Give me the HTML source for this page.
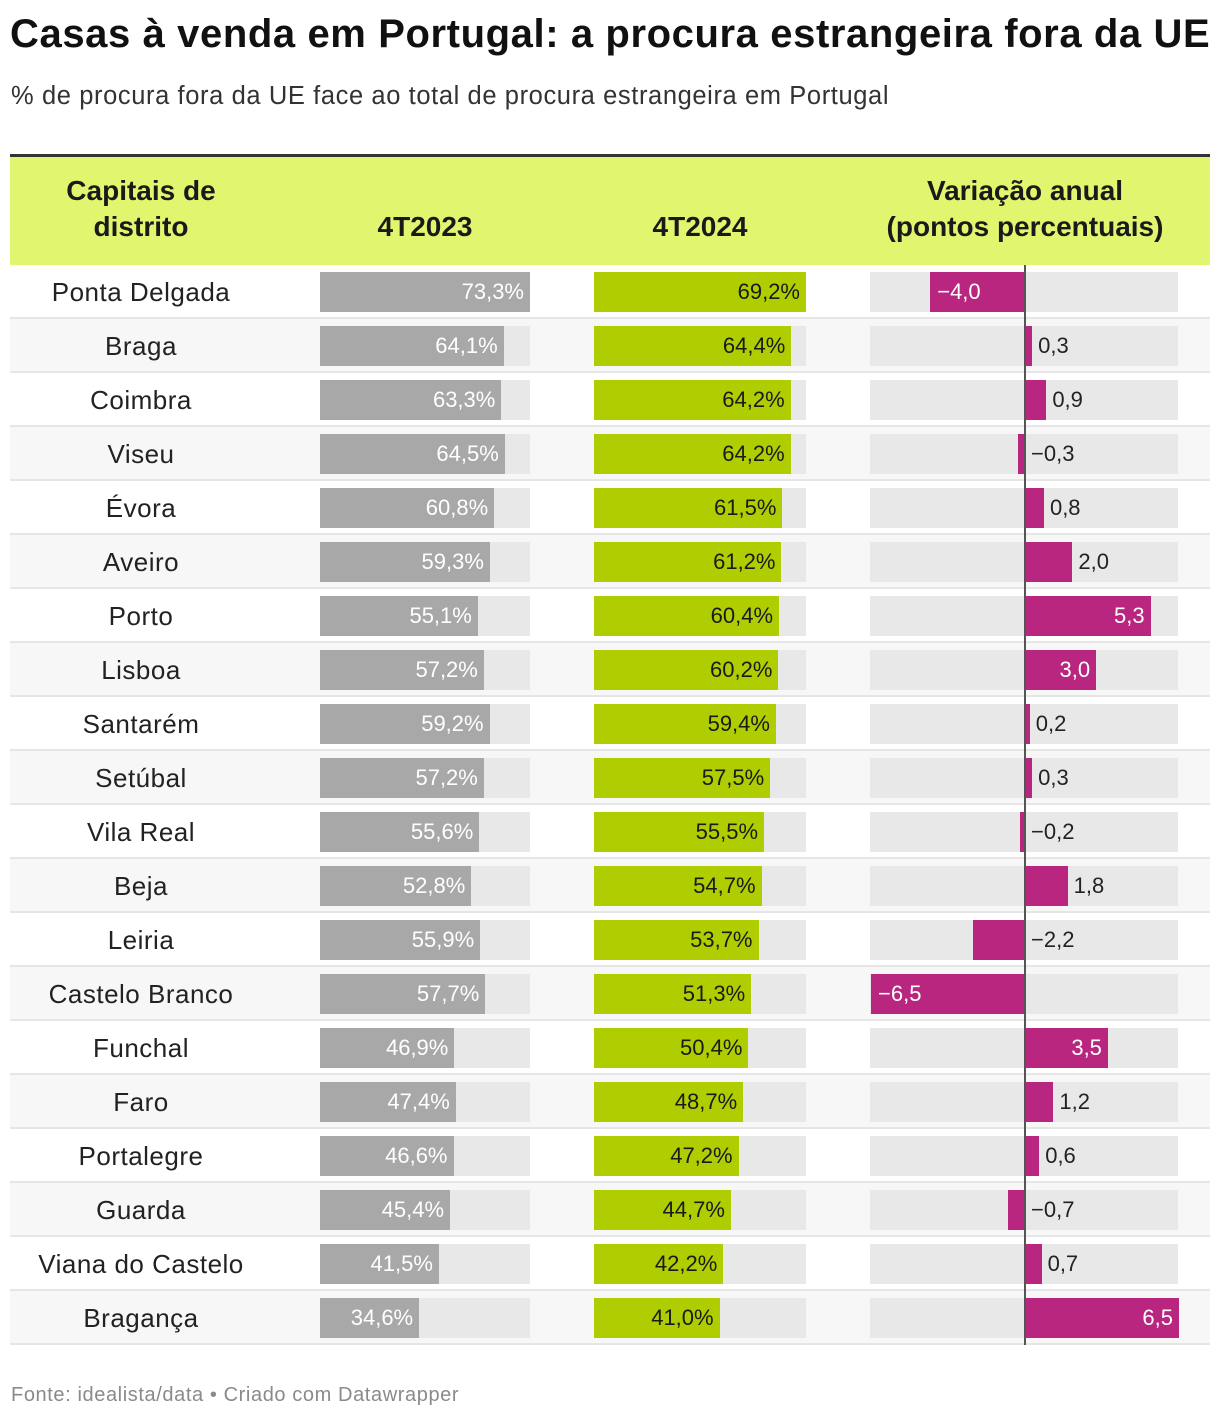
<!DOCTYPE html>
<html><head><meta charset="utf-8"><style>
body{margin:0;width:1220px;height:1420px;background:#fff;font-family:"Liberation Sans",sans-serif;position:relative;overflow:hidden}
.a{position:absolute}
#title{left:10px;top:12px;font-size:40px;font-weight:bold;color:#111;letter-spacing:0.6px;white-space:nowrap}
#sub{left:11px;top:82px;font-size:25.5px;letter-spacing:0.6px;color:#333;white-space:nowrap}
#hdr{left:10px;top:154px;width:1200px;height:108px;background:#e1f56e;border-top:3px solid #333;border-bottom:3px solid #333}
.h{font-weight:bold;font-size:28px;color:#1a1a1a;text-align:center;line-height:36px}
#foot{left:11px;top:1384px;font-size:20px;letter-spacing:0.6px;color:#8a8a8a;white-space:nowrap}
.lbl{font-size:22px;line-height:40px;white-space:nowrap}
</style></head><body>
<div id="title" class="a">Casas à venda em Portugal: a procura estrangeira fora da UE</div>
<div id="sub" class="a">% de procura fora da UE face ao total de procura estrangeira em Portugal</div>
<div id="hdr" class="a">
<div class="a h" style="left:0;width:262px;top:16px">Capitais de<br>distrito</div>
<div class="a h" style="left:310px;width:210px;top:52px">4T2023</div>
<div class="a h" style="left:584px;width:212px;top:52px">4T2024</div>
<div class="a h" style="left:840px;width:350px;top:16px">Variação anual<br>(pontos percentuais)</div>
</div>
<div id="rows"></div>
<div id="foot" class="a">Fonte: idealista/data • Criado com Datawrapper</div>
<script>
const districts=["Ponta Delgada","Braga","Coimbra","Viseu","Évora","Aveiro","Porto","Lisboa","Santarém","Setúbal","Vila Real","Beja","Leiria","Castelo Branco","Funchal","Faro","Portalegre","Guarda","Viana do Castelo","Bragança"];
const v2023=[73.3,64.1,63.3,64.5,60.8,59.3,55.1,57.2,59.2,57.2,55.6,52.8,55.9,57.7,46.9,47.4,46.6,45.4,41.5,34.6];
const v2024=[69.2,64.4,64.2,64.2,61.5,61.2,60.4,60.2,59.4,57.5,55.5,54.7,53.7,51.3,50.4,48.7,47.2,44.7,42.2,41.0];
const change=[-4.0,0.3,0.9,-0.3,0.8,2.0,5.3,3.0,0.2,0.3,-0.2,1.8,-2.2,-6.5,3.5,1.2,0.6,-0.7,0.7,6.5];
const fmt=v=>v.toFixed(1).replace('.',',');
const max23=Math.max(...v2023),max24=Math.max(...v2024),maxC=Math.max(...change.map(Math.abs));
const x23=v=>v/max23*210, x24=v=>v/max24*212, xC=v=>v/maxC*154;
const R=document.getElementById('rows');
function mk(css,name,html){const d=document.createElement('div');d.className='a';d.style.cssText=css;


if(html!==undefined)d.innerHTML=html;R.appendChild(d);return d;}
const top0=265,rh=54,zero=1025;
districts.forEach((n,i)=>{
 const y=top0+i*rh;
 mk(`left:10px;top:${y}px;width:1200px;height:${rh}px;background:${i%2?'#f7f7f7':'#fff'};border-bottom:2px solid #e6e6e6;box-sizing:border-box`,'table-row');
 mk(`left:10px;top:${y+7}px;width:262px;text-align:center;font-size:26px;letter-spacing:0.5px;line-height:40px;color:#222;white-space:nowrap`,'district-name',n);
 const by=y+7;
 mk(`left:320px;top:${by}px;width:210px;height:40px;background:#e8e8e8`,'bar-bg-4t2023');
 const w1=x23(v2023[i]);
 mk(`left:320px;top:${by}px;width:${w1}px;height:40px;background:#a8a8a8`,'bar-4t2023');
 mk(`left:320px;top:${by}px;width:${w1-6}px;text-align:right;color:#fff;`,'value-4t2023',fmt(v2023[i])+'%').classList.add('lbl');
 mk(`left:594px;top:${by}px;width:212px;height:40px;background:#e8e8e8`,'bar-bg-4t2024');
 const w2=x24(v2024[i]);
 mk(`left:594px;top:${by}px;width:${w2}px;height:40px;background:#afcd00`,'bar-4t2024');
 mk(`left:594px;top:${by}px;width:${w2-6}px;text-align:right;color:#1a1a1a;`,'value-4t2024',fmt(v2024[i])+'%').classList.add('lbl');
 mk(`left:870px;top:${by}px;width:308px;height:40px;background:#e8e8e8`,'bar-bg-change');
 const c=change[i],w=Math.abs(xC(c));
 const left=c<0?zero-w:zero;
 mk(`left:${left}px;top:${by}px;width:${w}px;height:40px;background:#b8267f`,'bar-change');
 const txt=(c<0?'−':'')+fmt(Math.abs(c));
 let css;
 if(w>60){css=c<0?`left:${left+7}px;top:${by}px;color:#fff`:`left:${zero}px;width:${w-6}px;text-align:right;top:${by}px;color:#fff`;}
 else{css=`left:${zero+(c>0?w:0)+6}px;top:${by}px;color:#222`;}
 mk(css,'value-change',txt).classList.add('lbl');
});
mk(`left:${zero-1}px;top:265px;width:2px;height:1080px;background:#555`,'zero-line');
</script>
</body></html>
